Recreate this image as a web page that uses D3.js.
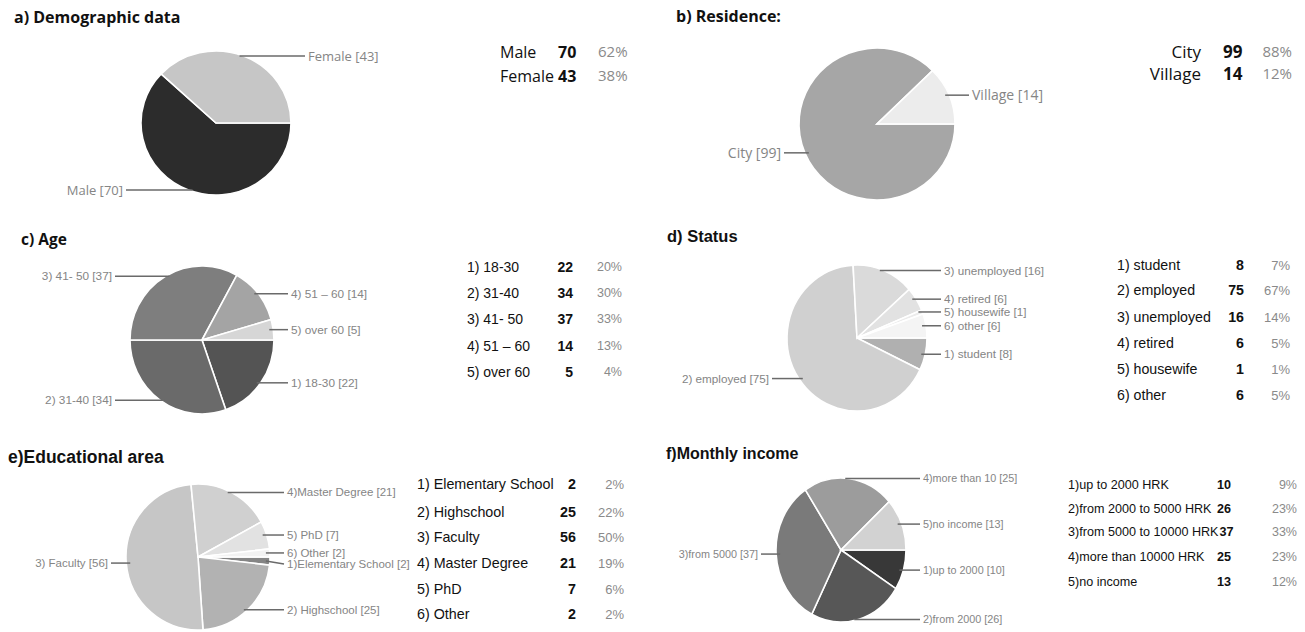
<!DOCTYPE html>
<html><head><meta charset="utf-8">
<script src="https://cdn.jsdelivr.net/npm/d3@7"></script>
<style>html,body{margin:0;padding:0;background:#fff;}svg{display:block;}</style>
</head><body>
<svg id="chart" width="1305" height="632"></svg>
<script>
// ---------- DATA ----------
const genderPie = ["Male", "Female"];
const genderTable = ["Male", "Female"];
const genderValues = [70, 43];
const genderPct = ["62%", "38%"];

const residencePie = ["City", "Village"];
const residenceTable = ["City", "Village"];
const residenceValues = [99, 14];
const residencePct = ["88%", "12%"];

const agePie = ["1) 18-30 ", "2) 31-40", "3) 41- 50", "4) 51 \u2013 60", "5) over 60"];
const ageTable = ["1) 18-30", "2) 31-40", "3) 41- 50", "4) 51 \u2013 60", "5) over 60"];
const ageValues = [22, 34, 37, 14, 5];
const agePct = ["20%", "30%", "33%", "13%", "4%"];

const statusPie = ["1) student", "2) employed", "3) unemployed", "4) retired", "5) housewife", "6) other"];
const statusTable = ["1) student", "2) employed", "3) unemployed", "4) retired", "5) housewife", "6) other"];
const statusValues = [8, 75, 16, 6, 1, 6];
const statusPct = ["7%", "67%", "14%", "5%", "1%", "5%"];

const eduPie = ["1)Elementary School", "2) Highschool", "3) Faculty", "4)Master Degree", "5) PhD", "6) Other"];
const eduTable = ["1) Elementary School", "2) Highschool", "3) Faculty", "4) Master Degree", "5) PhD", "6) Other"];
const eduValues = [2, 25, 56, 21, 7, 2];
const eduPct = ["2%", "22%", "50%", "19%", "6%", "2%"];

const incomePie = ["1)up to 2000", "2)from 2000", "3)from 5000", "4)more than 10", "5)no income"];
const incomeTable = ["1)up to 2000 HRK", "2)from 2000 to 5000 HRK", "3)from 5000 to 10000 HRK", "4)more than 10000 HRK", "5)no income"];
const incomeValues = [10, 26, 37, 25, 13];
const incomePct = ["9%", "23%", "33%", "23%", "12%"];

const titles = ["a) Demographic data", "b) Residence:", "c) Age", "d) Status", "e)Educational area", "f)Monthly income"];

// ---------- LAYOUT / STYLE ----------
const calibri = "'Open Sans', sans-serif";
const arial = "'Liberation Sans', Arial, sans-serif";

const panels = [
  { title: titles[0], tx: 14, ty: 23, tfont: calibri, tsize: 16,
    pie: genderPie, table: genderTable, values: genderValues, pct: genderPct,
    colors: ["#2c2c2c", "#c6c6c6"],
    cx: 216, cy: 123, rx: 75, ry: 72, lfont: calibri, lsize: 13,
    tab: { font: calibri, size: 16, pctSize: 15, rows: [52, 76], labelX: 500, labelAnchor: "start",
           numX: 558, numAnchor: "start", pctX: 598, pctAnchor: "start" } },
  { title: titles[1], tx: 676, ty: 22, tfont: calibri, tsize: 16,
    pie: residencePie, table: residenceTable, values: residenceValues, pct: residencePct,
    colors: ["#a6a6a6", "#ececec"],
    cx: 877, cy: 124, rx: 78, ry: 76, lfont: calibri, lsize: 14,
    tab: { font: calibri, size: 17, pctSize: 15, rows: [52, 74], labelX: 1201, labelAnchor: "end",
           numX: 1223, numAnchor: "start", pctX: 1292, pctAnchor: "end" } },
  { title: titles[2], tx: 21, ty: 245, tfont: calibri, tsize: 15.5,
    pie: agePie, table: ageTable, values: ageValues, pct: agePct,
    colors: ["#545454", "#6a6a6a", "#7e7e7e", "#a4a4a4", "#d6d6d6"],
    cx: 202, cy: 340, rx: 72, ry: 74, lfont: arial, lsize: 11.8,
    tab: { font: arial, size: 14, pctSize: 12.5, rows: [267, 293, 319, 346, 372], labelX: 467, labelAnchor: "start",
           numX: 573, numAnchor: "end", pctX: 622, pctAnchor: "end" } },
  { title: titles[3], tx: 667, ty: 242, tfont: arial, tsize: 16.5,
    pie: statusPie, table: statusTable, values: statusValues, pct: statusPct,
    colors: ["#b0b0b0", "#d0d0d0", "#dadada", "#e2e2e2", "#ebebeb", "#f4f4f4"],
    cx: 857, cy: 338, rx: 70, ry: 73, lfont: arial, lsize: 11.7,
    tab: { font: arial, size: 14.2, pctSize: 13, rows: [265, 290, 317, 343, 369, 395], labelX: 1117, labelAnchor: "start",
           numX: 1244, numAnchor: "end", pctX: 1290, pctAnchor: "end" } },
  { title: titles[4], tx: 8, ty: 463, tfont: arial, tsize: 17.5,
    pie: eduPie, table: eduTable, values: eduValues, pct: eduPct,
    colors: ["#858585", "#b2b2b2", "#c6c6c6", "#d0d0d0", "#e2e2e2", "#f2f2f2"],
    cx: 198, cy: 557, rx: 72, ry: 73, lfont: arial, lsize: 11.5,
    tab: { font: arial, size: 14.3, pctSize: 13, rows: [484, 512, 537, 563, 589, 614], labelX: 417, labelAnchor: "start",
           numX: 576, numAnchor: "end", pctX: 624, pctAnchor: "end" } },
  { title: titles[5], tx: 666, ty: 459, tfont: arial, tsize: 16,
    pie: incomePie, table: incomeTable, values: incomeValues, pct: incomePct,
    colors: ["#383838", "#575757", "#7a7a7a", "#9c9c9c", "#d2d2d2"],
    cx: 841, cy: 550, rx: 65, ry: 72, lfont: arial, lsize: 10.8,
    tab: { font: arial, size: 12.6, pctSize: 12.5, rows: [485, 509, 532, 557, 582], labelX: 1068, labelAnchor: "start",
           numX: 1217, numAnchor: "start", numAfterLabel: true, pctX: 1297, pctAnchor: "end" } }
];

const svg = d3.select("#chart");
const R = 100;
const pieGen = d3.pie().sort(null).value(d => d).startAngle(Math.PI / 2).endAngle(Math.PI / 2 + 2 * Math.PI);
const arcGen = d3.arc().innerRadius(0).outerRadius(R);

panels.forEach(p => {
  const g = svg.append("g");
  // title
  g.append("text").attr("x", p.tx).attr("y", p.ty)
    .style("font-family", p.tfont).style("font-size", p.tsize + "px").style("font-weight", "700")
    .attr("fill", "#111").text(p.title);

  // pie (ellipse via scaling)
  const arcs = pieGen(p.values);
  const pg = g.append("g").attr("transform", `translate(${p.cx},${p.cy}) scale(${p.rx / R},${p.ry / R})`);
  pg.selectAll("path").data(arcs).join("path")
    .attr("d", arcGen)
    .attr("fill", (d, i) => p.colors[i])
    .attr("stroke", "#fff").attr("stroke-width", 1.6)
    .attr("vector-effect", "non-scaling-stroke");

  // leader labels
  const labs = arcs.map((a, i) => {
    const m = (a.startAngle + a.endAngle) / 2;
    const ex = p.cx + Math.sin(m) * p.rx;
    const ey = p.cy - Math.cos(m) * p.ry;
    const right = Math.sin(m) >= 0;
    return { i, ex, ey, ly: ey, right };
  });
  [true, false].forEach(side => {
    const s = labs.filter(l => l.right === side).sort((a, b) => a.ey - b.ey);
    for (let k = 1; k < s.length; k++) {
      if (s[k].ly - s[k - 1].ly < 11) s[k].ly = s[k - 1].ly + 11;
    }
  });
  labs.forEach(l => {
    const lx = l.right ? p.cx + p.rx + 14 : p.cx - p.rx - 15;
    const sx = l.right ? l.ex - 4 : l.ex + 4;
    g.append("line").attr("x1", sx).attr("y1", l.ey).attr("x2", lx).attr("y2", l.ly)
      .attr("stroke", "#6a6a6a").attr("stroke-width", 1.5);
    g.append("text").attr("x", l.right ? lx + 3 : lx - 3).attr("y", l.ly).attr("dy", "0.35em")
      .attr("text-anchor", l.right ? "start" : "end")
      .style("font-family", p.lfont).style("font-size", p.lsize + "px")
      .attr("fill", "#858585")
      .text(`${p.pie[l.i]} [${p.values[l.i]}]`);
  });

  // table
  const t = p.tab;
  p.table.forEach((name, i) => {
    const y = t.rows[i];
    const lab = g.append("text").attr("x", t.labelX).attr("y", y).attr("dy", "0.35em").attr("text-anchor", t.labelAnchor)
      .style("font-family", t.font).style("font-size", t.size + "px").attr("fill", "#111").text(name);
    let nx = t.numX;
    if (t.numAfterLabel) {
      const end = t.labelX + lab.node().getComputedTextLength();
      nx = Math.max(nx, end + 1);
    }
    g.append("text").attr("x", nx).attr("y", y).attr("dy", "0.35em").attr("text-anchor", t.numAnchor)
      .style("font-family", t.font).style("font-size", t.size + "px").style("font-weight", "700")
      .attr("fill", "#111").text(p.values[i]);
    g.append("text").attr("x", t.pctX).attr("y", y).attr("dy", "0.35em").attr("text-anchor", t.pctAnchor)
      .style("font-family", t.font).style("font-size", t.pctSize + "px").attr("fill", "#8a8a8a").text(p.pct[i]);
  });
});
</script>
</body></html>
